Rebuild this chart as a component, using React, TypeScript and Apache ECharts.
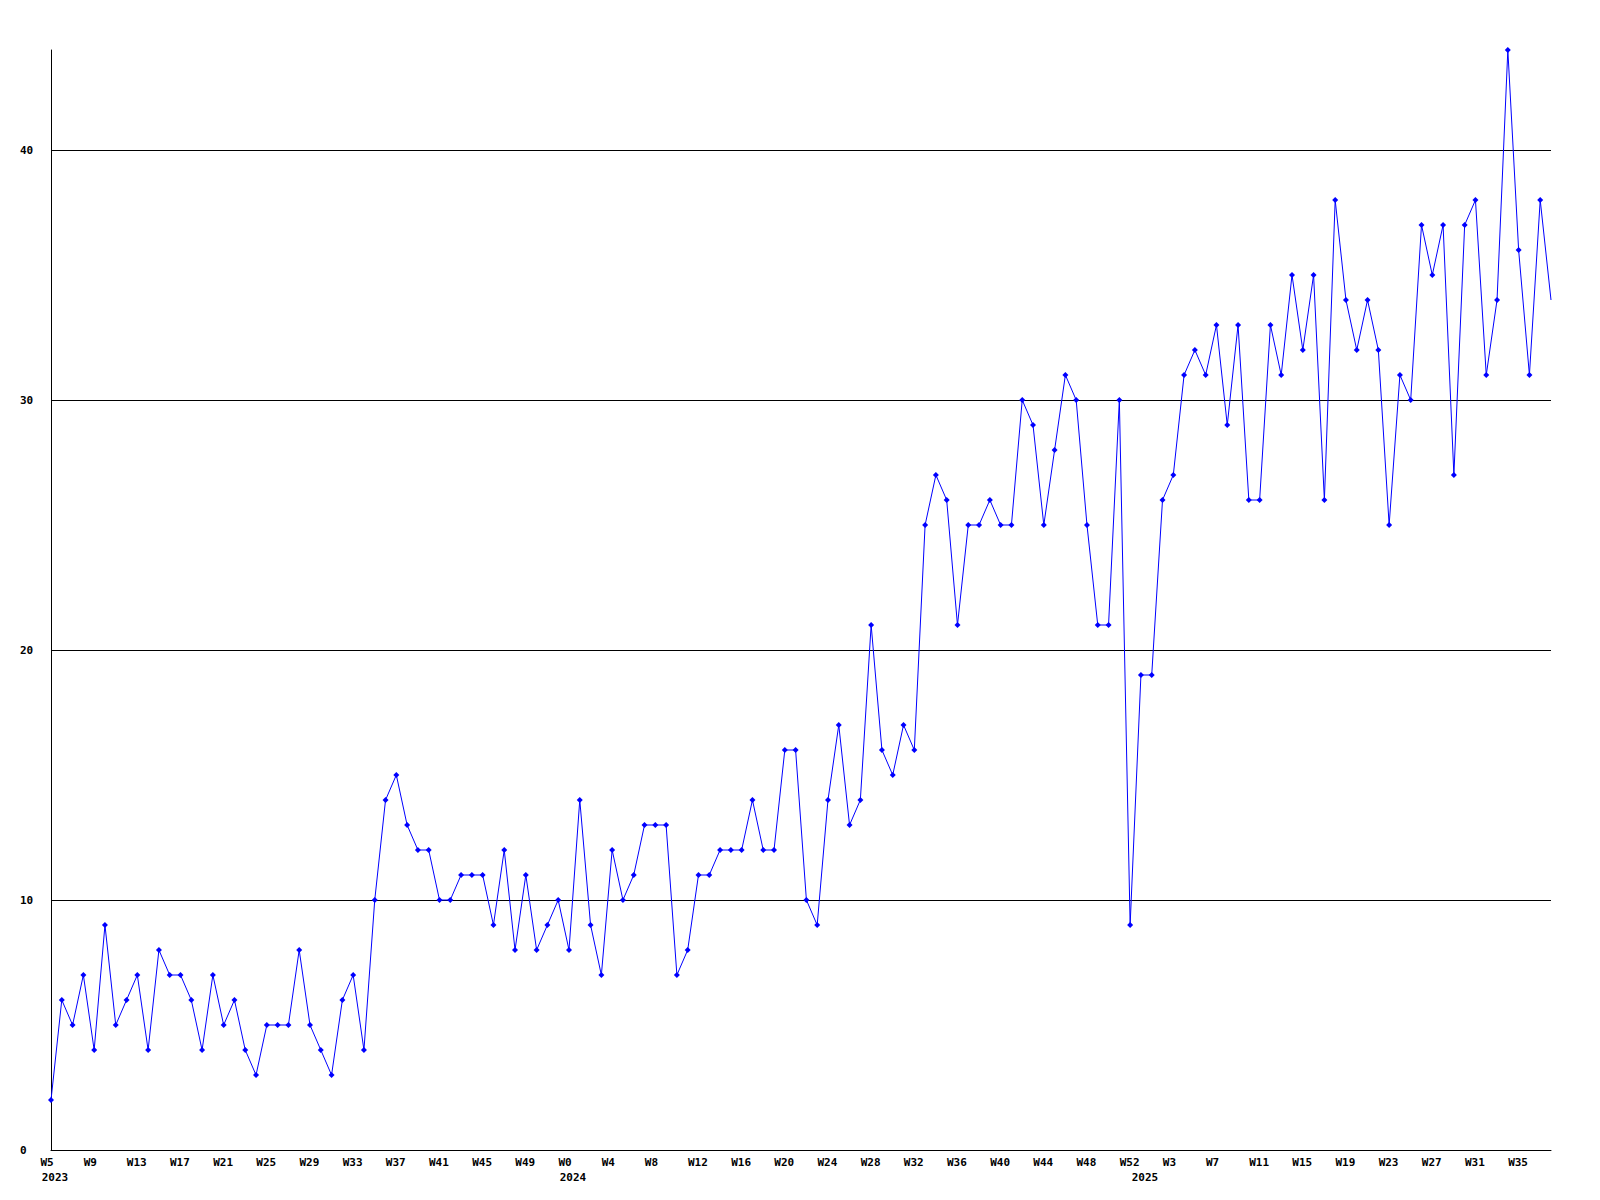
import React, { useEffect, useRef } from "react";
import * as echarts from "echarts";

// Week numbers per year
const weeks2023 = [5,6,7,8,9,10,11,12,13,14,15,16,17,18,19,20,21,22,23,24,25,26,27,28,29,30,31,32,33,34,35,36,37,38,39,40,41,42,43,44,45,46,47,48,49,50,51,52];
const weeks2024 = [0,1,2,3,4,5,6,7,8,9,10,11,12,13,14,15,16,17,18,19,20,21,22,23,24,25,26,27,28,29,30,31,32,33,34,35,36,37,38,39,40,41,42,43,44,45,46,47,48,49,50,51,52];
const weeks2025 = [0,1,2,3,4,5,6,7,8,9,10,11,12,13,14,15,16,17,18,19,20,21,22,23,24,25,26,27,28,29,30,31,32,33,34,35,36,37,38];

// Values per year
const values2023 = [2,6,5,7,4,9,5,6,7,4,8,7,7,6,4,7,5,6,4,3,5,5,5,8,5,4,3,6,7,4,10,14,15,13,12,12,10,10,11,11,11,9,12,8,11,8,9,10];
const values2024 = [8,14,9,7,12,10,11,13,13,13,7,8,11,11,12,12,12,14,12,12,16,16,10,9,14,17,13,14,21,16,15,17,16,25,27,26,21,25,25,26,25,25,30,29,25,28,31,30,25,21,21,30,9];
const values2025 = [19,19,26,27,31,32,31,33,29,33,26,26,33,31,35,32,35,26,38,34,32,34,32,25,31,30,37,35,37,27,37,38,31,34,44,36,31,38,34];

const yearLabels = ["2023", "2024", "2025"];
const yTicks = [0, 10, 20, 30, 40];

const FONT = "DejaVu Sans Mono";

export default function App() {
  const ref = useRef<HTMLDivElement>(null);

  useEffect(() => {
    if (!ref.current) return;
    const chart = echarts.init(ref.current, undefined, { renderer: "svg" });

    const groups = [
      { year: yearLabels[0], weeks: weeks2023, values: values2023 },
      { year: yearLabels[1], weeks: weeks2024, values: values2024 },
      { year: yearLabels[2], weeks: weeks2025, values: values2025 },
    ];
    const categories: string[] = [];
    const values: any[] = [];
    const yearStart = new Set<number>();
    groups.forEach((g) => {
      yearStart.add(categories.length);
      g.weeks.forEach((w, i) => {
        categories.push(`${g.year}-W${w}`);
        values.push(g.values[i]);
      });
    });
    // the last point is drawn without a marker in the reference
    const lastIdx = values.length - 1;
    values[lastIdx] = { value: values[lastIdx], symbol: "none" };

    const labelBase = {
      color: "#000",
      fontFamily: FONT,
      fontWeight: "bold" as const,
      fontSize: 11,
    };

    chart.setOption({
      animation: false,
      backgroundColor: "#ffffff",
      grid: { left: 51, right: 49, top: 50, bottom: 50, containLabel: false },
      xAxis: [
        {
          type: "category",
          data: categories,
          boundaryGap: false,
          axisLine: { show: true, lineStyle: { color: "#000", width: 1 } },
          axisTick: { show: false },
          splitLine: { show: false },
          axisLabel: {
            ...labelBase,
            margin: 7,
            interval: (i: number) => i % 4 === 0,
            formatter: (v: string) => `{a|${v.split("-")[1]}}`,
            rich: { a: { ...labelBase, width: 21, align: "left" } },
          },
        },
        {
          type: "category",
          data: categories,
          boundaryGap: false,
          position: "bottom",
          offset: 15,
          axisLine: { show: false },
          axisTick: { show: false },
          splitLine: { show: false },
          axisLabel: {
            ...labelBase,
            margin: 7,
            padding: [0, 0, 0, 8],
            interval: (i: number) => yearStart.has(i),
            formatter: (v: string) => v.split("-")[0],
          },
        },
      ],
      yAxis: {
        type: "value",
        min: yTicks[0],
        max: 44,
        interval: 10,
        axisLine: { show: true, lineStyle: { color: "#000", width: 1 } },
        axisTick: { show: false },
        axisLabel: {
          ...labelBase,
          align: "left",
          margin: 31,
          showMaxLabel: false,
        },
        splitLine: {
          show: true,
          showMaxLine: false,
          lineStyle: { color: "#000", width: 1 },
        },
      },
      series: [
        {
          type: "line",
          xAxisIndex: 0,
          data: values,
          symbol: "diamond",
          symbolSize: 6,
          showAllSymbol: true,
          lineStyle: { color: "#0000ff", width: 1 },
          itemStyle: { color: "#0000ff", borderWidth: 0 },
        },
      ],
    });

    return () => chart.dispose();
  }, []);

  return (
    <div
      ref={ref}
      style={{ position: "absolute", left: 0, top: 0, width: 1600, height: 1200, background: "#fff" }}
    />
  );
}
